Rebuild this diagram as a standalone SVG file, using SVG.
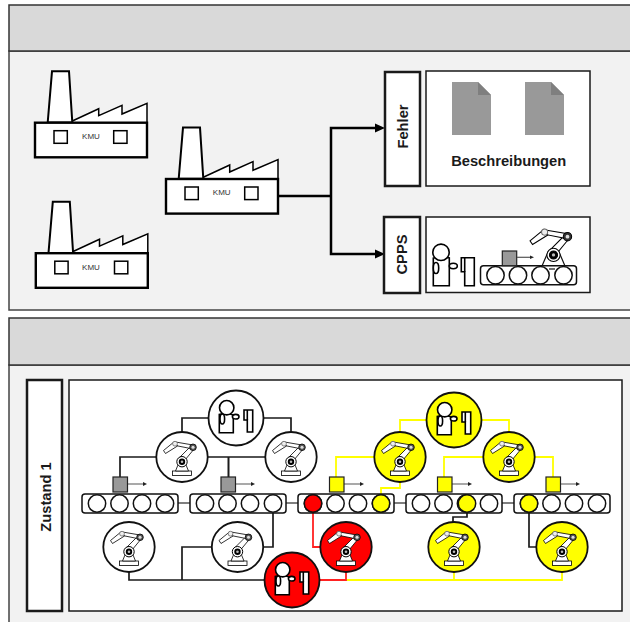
<svg xmlns="http://www.w3.org/2000/svg" xmlns:xlink="http://www.w3.org/1999/xlink" width="630" height="622" viewBox="0 0 630 622">
<style>
.hdr{fill:#d9d9d9;stroke:#333;stroke-width:1.5}
.pan{fill:#f2f2f2;stroke:#444;stroke-width:1.5}
.lbl{fill:#fff;stroke:#1a1a1a;stroke-width:2.5}
.box{fill:#fff;stroke:#1a1a1a;stroke-width:1.5}
.t{font-family:"Liberation Sans",Arial,sans-serif;font-weight:700;font-size:14.7px;fill:#1a1a1a;text-anchor:middle}
.k{font-family:"Liberation Sans",Arial,sans-serif;font-size:8px;fill:#333;text-anchor:middle}
.w{fill:#fff;stroke:#000}
.n{fill:none}
.blk{stroke:#1a1a1a;stroke-width:1.7}
.yel{stroke:#ff0;stroke-width:1.8}
.red{stroke:#f22;stroke-width:1.8}
.big{stroke:#000;stroke-width:2.5}
.cir{stroke:#111;stroke-width:1.8}
.fw{fill:#fff}.fy{fill:#ff0}.fr{fill:#f00}
.gb{fill:#999;stroke:#222;stroke-width:1.2}
.yb{fill:#ff0;stroke:#222;stroke-width:1.2}
.rl{stroke:#111;stroke-width:1.5}
</style>
<defs>
<g id="factory" stroke="#000">
<path d="M72.3 121L98.7 108.7V115.7L122 105.3V114L147 103.3V123H72.3Z" fill="#fff" stroke-width="1.5"/>
<path d="M47.7 122.500L52 71.300H69L72.300 122.500Z" fill="#fff" stroke-width="2"/>
<rect x="35" y="122.700" width="112" height="34.600" fill="#fff" stroke-width="2.400"/>
<rect x="54" y="130.700" width="13.300" height="12.600" fill="#fff" stroke-width="1.500"/>
<rect x="113.700" y="130.700" width="13.300" height="12.600" fill="#fff" stroke-width="1.500"/>
</g>
<g id="robot" class="w" stroke-width=".8">
<rect x="-9.500" y="14" width="19" height="4.500"/>
<path d="M-6.500 14L-2 3H2L6.500 14Z"/>
<path d="M-3 1L9 -11L12.500 -8.500L3 3Z"/>
<path d="M-6.500 -15L11 -12V-8L-6.500 -11.500Z"/>
<path d="M-7.500 -15.500L-18.500 -6.500L-16.500 -3.500L-4.500 -11Z"/>
<circle cy="4.700" r="5.200" stroke-width="1"/>
<circle cy="4.700" r="3.200" fill="#000" stroke="none"/>
<circle cy="4.700" r="1.300" fill="#bbb" stroke="none"/>
<circle cx="11" cy="-9.700" r="3.300" fill="#555" stroke="#000"/>
<circle cx="11" cy="-9.700" r="1.500" fill="#ddd" stroke="none"/>
<circle cx="-7" cy="-13.300" r="2.400" fill="#eee" stroke="#666"/>
</g>
<g id="person" class="w" stroke-width="1.600">
<path d="M-16.700 14.700V-3.500L-9 -5L-2.700 -3V14.700Z"/>
<ellipse cx="-13.700" cy="1" rx="2.300" ry="5"/>
<ellipse cx="-.300" cy="-1.300" rx="3.300" ry="2.300"/>
<circle cx="-9.300" cy="-10.300" r="7.200"/>
<path d="M8 -8H16.700V14H11.300V2H8Z"/>
<path d="M11.300 -8V2" fill="none"/>
</g>
<g id="belt" class="rl">
<rect x="0" y="0" width="96" height="19" rx="3" fill="#fff"/>
<circle cx="15" cy="9.500" r="8.700" fill="#fff"/>
<circle cx="37.500" cy="9.500" r="8.700" fill="#fff"/>
<circle cx="60" cy="9.500" r="8.700" fill="#fff"/>
<circle cx="83" cy="9.500" r="8.700" fill="#fff"/>
</g>
<path id="doc" d="M0 0H26L39 13V53H0Z" fill="#999"/>
</defs>

<g id="panel-top">
<rect class="pan" x="9" y="51" width="630" height="259"/>
<rect class="hdr" x="9" y="5" width="630" height="46"/>
</g>
<g id="panel-bottom">
<rect class="pan" x="9" y="365" width="630" height="280"/>
<rect class="hdr" x="9" y="318" width="630" height="47"/>
</g>
<rect id="state-frame" class="box" x="69" y="380" width="553" height="231"/>

<g id="connectors" fill="none">
<path class="n big" d="M278 196H331V128H378M331 196V254H378"/>
<path d="M375 123.500L385 128L375 132.500Z M375 249.500L385 254L375 258.500Z" fill="#000"/>
<path class="n blk" d="M209 418H182V432M263 418H291V432M156 457H120V477M207 457H266"/>
<path class="n" stroke="#1a1a1a" stroke-width="2" d="M228.500 457V477"/>
<path class="n blk" d="M273 513V547H263M212 547H182V580M129 572V580H265"/>
<path class="n" stroke="#555" stroke-width="1.500" d="M178 503H190M286 503H298M394 503H406M502 503H514"/>
<path class="n blk" d="M453 522V517H467V513M529 513V547H536"/>
<path class="n yel" d="M427 420H400V432M481 420H509V432M374 457H336V477M400 482V488H381V494M483 457H444V477M535 457H553V477M346 580H562V572M454 580V572"/>
<path class="n red" d="M319 580H346V572M313 513V547H321"/>
<path stroke="#555" stroke-width="1.200" d="M128 484H144M236 484H252M344 484H361M452 484H469M561 484H577"/>
<path fill="#222" d="M143 482L147 484L143 486ZM251 482L255 484L251 486ZM360 482L364 484L360 486ZM468 482L472 484L468 486ZM576 482L580 484L576 486Z"/>
</g>

<g id="factory-1"><use xlink:href="#factory" href="#factory"/><text class="k" x="91" y="139">KMU</text></g>
<g id="factory-2"><use xlink:href="#factory" href="#factory" x="131" y="56.300"/><text class="k" x="221.700" y="194.700">KMU</text></g>
<g id="factory-3"><use xlink:href="#factory" href="#factory" x=".800" y="130.500"/><text class="k" x="91" y="269.700">KMU</text></g>

<g id="fehler"><rect class="lbl" x="385" y="72" width="35" height="114"/><text class="t" transform="translate(407.500 126.500) rotate(-90)">Fehler</text></g>
<g id="beschreibungen"><rect class="box" x="426" y="71" width="164" height="115"/>
<use xlink:href="#doc" href="#doc" x="452" y="82"/><path d="M478 82L491 95H478Z" fill="#7f7f7f"/>
<use xlink:href="#doc" href="#doc" x="525" y="82"/><path d="M551 82L564 95H551Z" fill="#7f7f7f"/>
<text class="t" x="508.700" y="166">Beschreibungen</text></g>
<g id="cpps"><rect class="lbl" x="384" y="217" width="36" height="76"/><text class="t" transform="translate(407.300 254.500) rotate(-90)">CPPS</text></g>
<g id="cpps-scene"><rect class="box" x="426" y="217" width="164" height="75.500"/>
<g class="w" stroke-width="1.600">
<path d="M433.300 285.700V258L441 256L449.300 258V285.700Z"/>
<ellipse cx="436" cy="268" rx="2.700" ry="5.500"/>
<ellipse cx="453.300" cy="266" rx="4" ry="2.700"/>
<circle cx="441" cy="252.300" r="8.200"/>
<path d="M461.300 257.700H474.300V285.700H464.700V271.700H461.300Z"/>
<path d="M464.700 257.700V271.700" fill="none"/>
</g>
<path d="M542 266L548 252H559L565 266" fill="#fff" stroke="#111" stroke-width="1.200"/>
<use xlink:href="#belt" href="#belt" x="480.500" y="265.800"/>
<path d="M549 269H555" stroke="#111" stroke-width="1.200"/>
<rect class="gb" x="502.300" y="251" width="14.400" height="14.700"/>
<path d="M517 257.300H531" stroke="#555" stroke-width="1.200"/>
<path d="M530 255.500L534 257.300L530 259Z" fill="#222"/>
<g transform="translate(553.500 249) scale(1.270)" class="w" stroke-width=".8"><path d="M-3 1L9 -11L12.500 -8.500L3 3Z"/><path d="M-6.500 -15L11 -12V-8L-6.500 -11.500Z"/><path d="M-7.500 -15.500L-18.500 -6.500L-16.500 -3.500L-4.500 -11Z"/><circle cy="4.700" r="5.200"/><circle cy="4.700" r="3.200" fill="#000"/><circle cy="4.700" r="1.300" fill="#bbb" stroke="none"/><circle cx="11" cy="-9.700" r="3.300" fill="#333"/><circle cx="11" cy="-9.700" r="1.500" fill="#ddd" stroke="none"/><circle cx="-7" cy="-13.300" r="2.400" fill="#eee" stroke="#666"/></g>
</g>

<g id="zustand"><rect class="lbl" x="27" y="380" width="35" height="231"/><text class="t" transform="translate(50.500 497) rotate(-90)">Zustand 1</text></g>

<g id="belt-1"><use xlink:href="#belt" href="#belt" x="82" y="494"/><rect class="gb" x="113" y="477" width="14.500" height="15"/></g>
<g id="belt-2"><use xlink:href="#belt" href="#belt" x="190" y="494"/><rect class="gb" x="221" y="477" width="14.500" height="15"/></g>
<g id="belt-3"><use xlink:href="#belt" href="#belt" x="298" y="494"/><rect class="yb" x="329.500" y="477" width="14.500" height="15"/><circle class="rl fr" cx="313" cy="503.500" r="8.700"/><circle class="rl fy" cx="381" cy="503.500" r="8.700"/></g>
<g id="belt-4"><use xlink:href="#belt" href="#belt" x="406" y="494"/><rect class="yb" x="437.500" y="477" width="14.500" height="15"/><circle class="rl fy" cx="467" cy="503.500" r="8.700"/></g>
<g id="belt-5"><use xlink:href="#belt" href="#belt" x="514" y="494"/><rect class="yb" x="546" y="477" width="14.500" height="15"/><circle class="rl fy" cx="529" cy="503.500" r="8.700"/></g>

<g id="robot-1"><ellipse class="cir fw" cx="182" cy="457" rx="25.700" ry="25"/><use xlink:href="#robot" href="#robot" x="182" y="457"/></g>
<g id="robot-2"><ellipse class="cir fw" cx="291" cy="457" rx="25.700" ry="25"/><use xlink:href="#robot" href="#robot" x="291" y="457"/></g>
<g id="robot-3"><ellipse class="cir fw" cx="129" cy="547" rx="25.700" ry="25"/><use xlink:href="#robot" href="#robot" x="129" y="547"/></g>
<g id="robot-4"><ellipse class="cir fw" cx="237.500" cy="547" rx="25.700" ry="25"/><use xlink:href="#robot" href="#robot" x="237.500" y="547"/></g>
<g id="robot-5"><ellipse class="cir fr" cx="346" cy="547" rx="25.700" ry="25"/><use xlink:href="#robot" href="#robot" x="346" y="547"/></g>
<g id="robot-6"><ellipse class="cir fy" cx="400" cy="457" rx="25.700" ry="25"/><use xlink:href="#robot" href="#robot" x="400" y="457"/></g>
<g id="robot-7"><ellipse class="cir fy" cx="509" cy="457" rx="25.700" ry="25"/><use xlink:href="#robot" href="#robot" x="509" y="457"/></g>
<g id="robot-8"><ellipse class="cir fy" cx="454" cy="547" rx="25.700" ry="25"/><use xlink:href="#robot" href="#robot" x="454" y="547"/></g>
<g id="robot-9"><ellipse class="cir fy" cx="562" cy="547" rx="25.700" ry="25"/><use xlink:href="#robot" href="#robot" x="562" y="547"/></g>

<g id="person-1"><circle class="cir fw" cx="236" cy="418" r="27.500"/><use xlink:href="#person" href="#person" x="236" y="418"/></g>
<g id="person-2"><circle class="cir fy" cx="454" cy="420" r="27.500"/><use xlink:href="#person" href="#person" x="454" y="420"/></g>
<g id="person-3"><circle class="cir fr" cx="292" cy="580" r="27.500"/><use xlink:href="#person" href="#person" x="292" y="580"/></g>
</svg>
